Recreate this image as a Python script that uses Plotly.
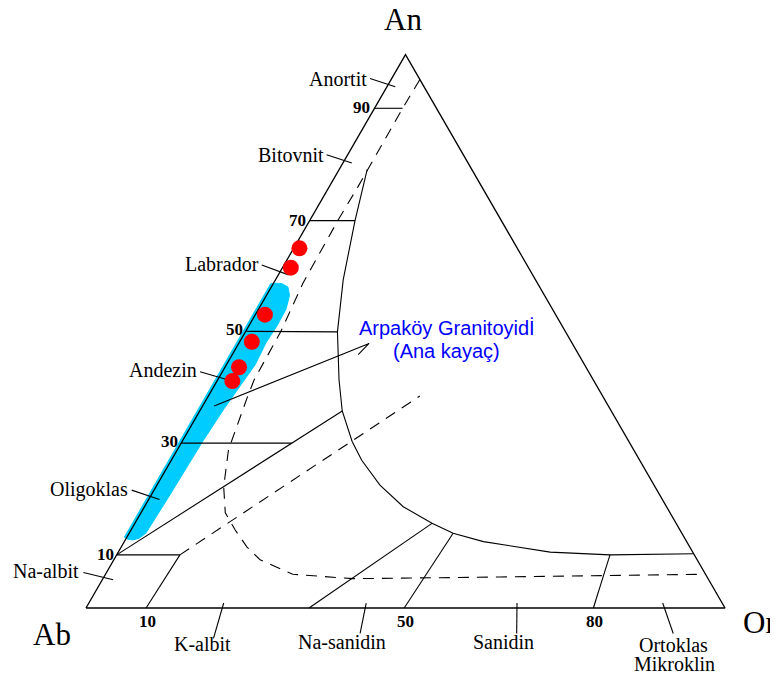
import numpy as np
import plotly.graph_objects as go

S3 = np.sqrt(3) / 2


def xy(an, orr):
    an = np.asarray(an, float)
    orr = np.asarray(orr, float)
    return orr + an / 2, an * S3


# ---------------- data (ternary: An %, Or %; Ab = 100 - An - Or) ----------------
sample_an = [65.0, 61.5, 53.0, 48.1, 43.5, 41.0]
sample_or = [0.9, 1.3, 1.5, 1.9, 2.2, 2.4]

field_an = [58.6, 12.8, 12.4, 12.3, 12.6, 13.5, 20.0, 30.0, 36.0, 40.0, 44.0, 48.0, 51.0, 54.0, 56.5, 58.0, 58.6, 58.7]
field_or = [-0.4, -0.4, 0.4, 1.2, 2.0, 2.6, 2.9, 3.2, 3.6, 4.0, 4.5, 4.2, 4.4, 4.3, 3.6, 2.6, 1.4, 0.3]

solvus_hi_an = [79.2, 70.0, 59.3, 49.9, 41.2, 35.6, 30.1, 26.7, 22.2, 18.3, 15.3, 13.5, 12.0, 10.1, 9.6, 9.8]
solvus_hi_or = [4.4, 7.1, 10.6, 14.4, 19.0, 22.3, 26.6, 29.8, 34.9, 40.5, 46.5, 50.7, 56.2, 67.6, 77.2, 90.2]

solvus_lo_an = [95.5, 90.3, 76.1, 70.1, 58.7, 50.0, 41.2, 38.1, 28.6, 21.9, 17.2, 14.1, 11.0, 8.7, 6.1, 5.3, 5.6, 6.1]
solvus_lo_or = [4.5, 4.4, 4.5, 4.4, 4.6, 5.5, 5.7, 6.2, 8.0, 10.6, 13.2, 16.3, 19.7, 22.9, 29.3, 39.1, 62.0, 93.9]

# solid boundary segments: (An1, Or1, An2, Or2)
solid_segments = [
    (90.3, 0.0, 90.3, 4.4),     # 90
    (70.0, 0.0, 70.0, 7.1),     # 70
    (50.0, 0.0, 49.9, 14.4),    # 50
    (29.8, 0.0, 29.8, 17.3),    # 30
    (9.6, 0.0, 9.6, 9.9),       # 10 (An)
    (0.0, 9.4, 9.6, 9.9),       # 10 (Or)
    (9.6, 0.0, 35.6, 22.3),     # Ab - boundary
    (0.0, 34.9, 15.3, 46.5),    # Na-sanidin / sanidin
    (0.0, 49.8, 13.5, 50.7),    # 50 (Or)
    (0.0, 79.4, 9.6, 77.2),     # 80 (Or)
]
dashed_segments = [
    (9.6, 9.9, 38.3, 33.1),
]

tick_labels_left = ["90", "70", "50", "30", "10"]
tick_labels_bottom = ["10", "50", "80"]

mineral_names = ["Anortit", "Bitovnit", "Labrador", "Andezin", "Oligoklas", "Na-albit",
                 "K-albit", "Na-sanidin", "Sanidin", "Ortoklas", "Mikroklin"]

# leader lines (An1, Or1, An2, Or2)
leaders = [
    (95.7, -3.4, 94.2, 1.3),
    (81.9, -3.3, 80.4, 1.4),
    (62.0, -3.5, 60.2, 1.6),
    (42.7, -3.5, 41.2, 1.7),
    (21.3, -3.5, 19.6, 1.7),
    (6.4, -3.6, 5.1, 1.7),
    (-5.5, 22.7, 0.9, 21.1),
    (-4.6, 45.2, 0.9, 43.4),
    (0.9, 67.0, -4.6, 69.7),
    (0.9, 89.8, -4.6, 94.2),
]

# arrow from the field to the label (An, Or)
arrow_an = [36.5, 47.8, 45.8]
arrow_or = [1.8, 20.4, 19.7]

# ---------------- figure ----------------
W, H = 778, 674
OFF = 8  # page body margin of the html page
fig = go.Figure()

fx, fy = xy(field_an, field_or)
fig.add_trace(go.Scatter(x=list(fx) + [fx[0]], y=list(fy) + [fy[0]], mode="lines",
                         fill="toself", fillcolor="#00CCFF",
                         line=dict(color="#00CCFF", width=1), hoverinfo="skip"))

LW = 1.1
# triangle
tx, ty = xy([0, 0, 100, 0], [0, 100, 0, 0])
fig.add_trace(go.Scatter(x=tx, y=ty, mode="lines", line=dict(color="black", width=1.3), hoverinfo="skip"))

for a1, o1, a2, o2 in solid_segments + leaders:
    sx, sy = xy([a1, a2], [o1, o2])
    fig.add_trace(go.Scatter(x=sx, y=sy, mode="lines", line=dict(color="black", width=LW), hoverinfo="skip"))

for a1, o1, a2, o2 in dashed_segments:
    sx, sy = xy([a1, a2], [o1, o2])
    fig.add_trace(go.Scatter(x=sx, y=sy, mode="lines",
                             line=dict(color="black", width=LW, dash="11px,8px"), hoverinfo="skip"))

hx, hy = xy(solvus_hi_an, solvus_hi_or)
fig.add_trace(go.Scatter(x=hx, y=hy, mode="lines", line=dict(color="black", width=LW), hoverinfo="skip"))

lx, ly = xy(solvus_lo_an, solvus_lo_or)
fig.add_trace(go.Scatter(x=lx, y=ly, mode="lines",
                         line=dict(color="black", width=LW, dash="11px,8px"), hoverinfo="skip"))

ax_, ay_ = xy(arrow_an, arrow_or)
fig.add_trace(go.Scatter(x=ax_, y=ay_, mode="lines", line=dict(color="black", width=LW), hoverinfo="skip"))

px_, py_ = xy(sample_an, sample_or)
fig.add_trace(go.Scatter(x=px_, y=py_, mode="markers",
                         marker=dict(color="#FF0000", size=16, line=dict(width=0)), hoverinfo="skip"))

# ---------------- text ----------------
SERIF = "Liberation Serif, Times New Roman, serif"
SANS = "Liberation Sans, Arial, sans-serif"


def ann(text, xp, yp, size, family=SERIF, color="black", bold=False):
    if bold:
        text = "<b>" + text + "</b>"
    fig.add_annotation(x=(xp - OFF) / W, y=1 - (yp - OFF) / H, xref="paper", yref="paper", text=text,
                       showarrow=False, xanchor="center", yanchor="middle",
                       font=dict(size=size, family=family, color=color))


ann("An", 403, 20, 31)
ann("Ab", 52, 634, 31)
ann("Or", 759, 622, 31)

left_pos = [(361.5, 107), (297.7, 220), (234, 330), (169.7, 441), (105, 554)]
for t, (xp, yp) in zip(tick_labels_left, left_pos):
    ann(t, xp, yp, 17, bold=True)
bottom_pos = [(147.7, 621), (405.3, 621), (594, 621)]
for t, (xp, yp) in zip(tick_labels_bottom, bottom_pos):
    ann(t, xp, yp, 17, bold=True)

name_pos = [(338, 79.5), (291, 155), (222.5, 264), (162.5, 370), (89.3, 489), (46.3, 571),
            (202.3, 643.5), (341.7, 641.5), (503, 641.5), (673, 645), (674, 664)]
for t, (xp, yp) in zip(mineral_names, name_pos):
    ann(t, xp, yp, 20)

ann("Arpaköy Granitoyidİ", 447, 328, 20, family=SANS, color="#0000FF")
ann("(Ana kayaç)", 446, 351, 20, family=SANS, color="#0000FF")

PXU = 6.39  # pixels per percent
x0 = -(86 - OFF) / PXU
x1 = (W + OFF - 86) / PXU
y1 = (608 - OFF) / PXU
y0 = -(H + OFF - 608) / PXU
fig.update_layout(
    width=W, height=H, margin=dict(l=0, r=0, t=0, b=0),
    paper_bgcolor="white", plot_bgcolor="white", showlegend=False,
    xaxis=dict(range=[x0, x1], visible=False, fixedrange=True),
    yaxis=dict(range=[y0, y1], visible=False, fixedrange=True),
)

fig.write_html("out.html")
